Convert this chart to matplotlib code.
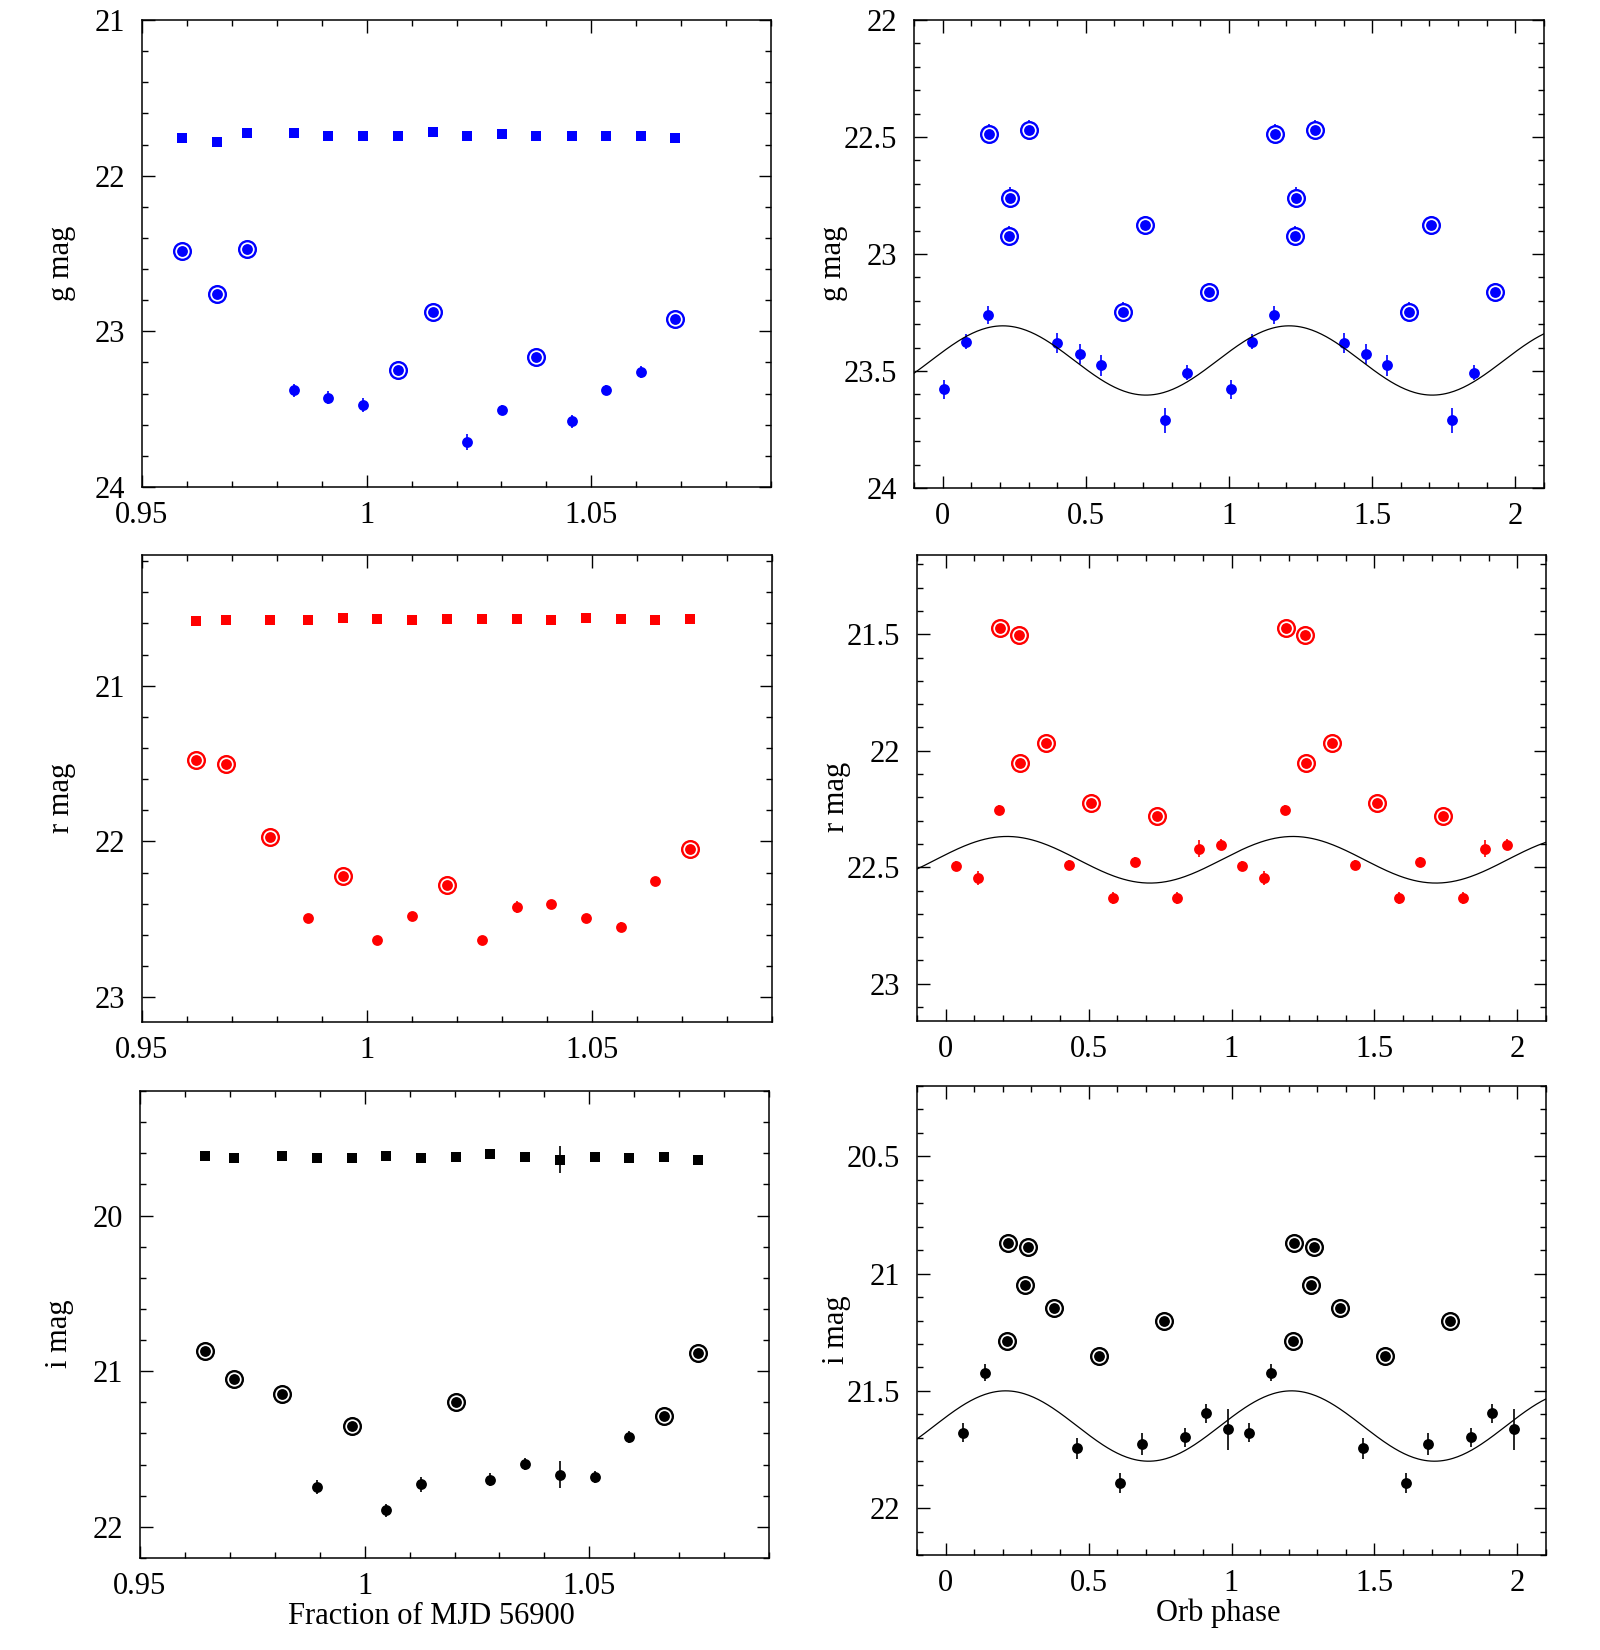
import numpy as np
import matplotlib
matplotlib.use('Agg')
import matplotlib.pyplot as plt
from matplotlib.ticker import MultipleLocator, FuncFormatter

plt.rcParams['font.family'] = ['Liberation Serif', 'DejaVu Serif']
plt.rcParams['font.size'] = 22

# ---- g band ----
g_cmp_t = [0.9589, 0.9666, 0.9733, 0.9839, 0.9915, 0.9993, 1.0070, 1.0147,
           1.0224, 1.0302, 1.0378, 1.0456, 1.0533, 1.0610, 1.0687]
g_cmp = [21.759, 21.781, 21.729, 21.729, 21.742, 21.748, 21.742, 21.722,
         21.742, 21.731, 21.746, 21.742, 21.748, 21.742, 21.759]
g_cmp_err = [0.01] * 15
g_t = g_cmp_t
g_mag = [22.486, 22.759, 22.468, 23.380, 23.426, 23.476, 23.247, 22.878,
         23.711, 23.507, 23.162, 23.579, 23.374, 23.260, 22.921]
g_err = [0.04, 0.045, 0.04, 0.042, 0.043, 0.045, 0.04, 0.04,
         0.053, 0.032, 0.04, 0.04, 0.032, 0.039, 0.04]
g_ring = [1, 1, 1, 0, 0, 0, 1, 1, 0, 0, 1, 0, 0, 0, 1]
g_phase = [0.161, 0.234, 0.301, 0.401, 0.478, 0.552, 0.629, 0.705,
           0.777, 0.855, 0.929, 0.0065, 0.081, 0.158, 0.231]
g_fit = (23.455, 0.148, 0.21)   # mean, semi-amplitude, phase of maximum

# ---- r band ----
r_cmp_t = [0.9621, 0.9686, 0.9785, 0.9870, 0.9947, 1.0023, 1.0101, 1.0178,
           1.0255, 1.0333, 1.0409, 1.0486, 1.0565, 1.0641, 1.0717]
r_cmp = [20.586, 20.580, 20.577, 20.577, 20.562, 20.569, 20.580, 20.569,
         20.571, 20.571, 20.580, 20.564, 20.573, 20.580, 20.573]
r_cmp_err = [0.01] * 15
r_t = r_cmp_t
r_mag = [21.474, 21.505, 21.969, 22.490, 22.225, 22.631, 22.478, 22.279,
         22.631, 22.421, 22.403, 22.493, 22.547, 22.253, 22.051]
r_err = [0.03, 0.03, 0.03, 0.02, 0.03, 0.025, 0.02, 0.03,
         0.025, 0.036, 0.025, 0.02, 0.03, 0.02, 0.03]
r_ring = [1, 1, 1, 0, 1, 0, 0, 1, 0, 0, 0, 0, 0, 0, 1]
r_phase = [0.191, 0.256, 0.352, 0.433, 0.510, 0.585, 0.661, 0.738,
           0.811, 0.888, 0.963, 0.036, 0.112, 0.187, 0.261]
r_fit = (22.468, 0.100, 0.215)

# ---- i band ----
i_cmp_t = [0.9645, 0.9710, 0.9815, 0.9895, 0.9972, 1.0048, 1.0126, 1.0203,
           1.0280, 1.0358, 1.0434, 1.0512, 1.0589, 1.0666, 1.0742]
i_cmp = [19.619, 19.630, 19.616, 19.633, 19.630, 19.616, 19.630, 19.623,
         19.605, 19.623, 19.642, 19.623, 19.630, 19.621, 19.642]
i_cmp_err = [0.01, 0.01, 0.01, 0.01, 0.01, 0.01, 0.01, 0.01,
             0.01, 0.01, 0.087, 0.01, 0.01, 0.01, 0.01]
i_t = i_cmp_t
i_mag = [20.868, 21.049, 21.147, 21.745, 21.351, 21.894, 21.726, 21.200,
         21.698, 21.595, 21.664, 21.678, 21.422, 21.286, 20.885]
i_err = [0.03, 0.03, 0.03, 0.045, 0.03, 0.043, 0.048, 0.03,
         0.041, 0.04, 0.088, 0.039, 0.037, 0.03, 0.03]
i_ring = [1, 1, 1, 0, 1, 0, 0, 1, 0, 0, 0, 0, 0, 1, 1]
i_phase = [0.217, 0.278, 0.380, 0.460, 0.537, 0.610, 0.688, 0.764,
           0.836, 0.912, 0.988, 0.060, 0.137, 0.215, 0.288]
i_fit = (21.65, 0.15, 0.21)

fmt = FuncFormatter(lambda v, p: '%g' % round(v, 6))


def style(ax, xmaj, xmin, ymaj, ymin):
    ax.xaxis.set_major_locator(MultipleLocator(xmaj))
    ax.xaxis.set_minor_locator(MultipleLocator(xmin))
    ax.yaxis.set_major_locator(MultipleLocator(ymaj))
    ax.yaxis.set_minor_locator(MultipleLocator(ymin))
    ax.xaxis.set_major_formatter(fmt)
    ax.yaxis.set_major_formatter(fmt)
    ax.tick_params(which='both', direction='in', top=True, right=True, width=1)
    ax.tick_params(which='major', length=9)
    ax.tick_params(which='minor', length=4.5)
    ax.tick_params(axis='y', pad=12)
    ax.tick_params(axis='x', pad=10)
    for s in ax.spines.values():
        s.set_linewidth(1.1)


def points(ax, x, m, e, ring, color):
    x = np.asarray(x); m = np.asarray(m); e = np.asarray(e)
    ring = np.asarray(ring, dtype=bool)
    ax.errorbar(x, m, yerr=e, fmt='none', ecolor=color, elinewidth=1.2, capsize=0)
    ax.plot(x[ring], m[ring], 'o', ms=12, mfc='white', mec=color, mew=1.7)
    ax.plot(x, m, 'o', ms=7.8, color=color, mew=0)


def time_panel(ax, tc, mc, ec, t, m, e, ring, color, ylim, label):
    ax.errorbar(tc, mc, yerr=ec, fmt='s', ms=7.8, mew=0, color=color,
                ecolor=color, elinewidth=1.2, capsize=0)
    points(ax, t, m, e, ring, color)
    ax.set_xlim(0.95, 1.09)
    ax.set_ylim(ylim[1], ylim[0])
    style(ax, 0.05, 0.01, 1, 0.2)
    ax.set_ylabel(label)
    ax.yaxis.set_label_coords(-0.105, 0.48)


def phase_panel(ax, ph, m, e, ring, color, fit, ylim, label):
    ph = np.asarray(ph)
    points(ax, np.concatenate([ph, ph + 1]), np.concatenate([m, m]),
           np.concatenate([e, e]), np.concatenate([ring, ring]), color)
    # fitted sinusoid (period = 1 in phase)
    xx = np.linspace(-0.1, 2.1, 400)
    mean, amp, p0 = fit
    ax.plot(xx, mean - amp * np.cos(2 * np.pi * (xx - p0)), color='black', lw=0.9)
    ax.set_xlim(-0.1, 2.1)
    ax.set_ylim(ylim[1], ylim[0])
    style(ax, 0.5, 0.1, 0.5, 0.1)
    ax.set_ylabel(label)
    ax.yaxis.set_label_coords(-0.105, 0.48)


fig = plt.figure(figsize=(16, 16.5), dpi=100)
W, H = 1600.0, 1650.0


def add_ax(l, r, t, b):
    return fig.add_axes([l / W, 1 - b / H, (r - l) / W, (b - t) / H])


ax1 = add_ax(142, 771, 20, 487)
ax2 = add_ax(914, 1544, 20, 488)
ax3 = add_ax(142, 772, 555, 1022)
ax4 = add_ax(917, 1546, 555, 1021)
ax5 = add_ax(140, 769, 1091, 1558)
ax6 = add_ax(917, 1546, 1086, 1555)

blue, red, black = '#0000ff', '#ff0000', '#000000'

time_panel(ax1, g_cmp_t, g_cmp, g_cmp_err, g_t, g_mag, g_err, g_ring, blue, (21, 24), 'g mag')
phase_panel(ax2, g_phase, g_mag, g_err, g_ring, blue, g_fit, (22, 24), 'g mag')
time_panel(ax3, r_cmp_t, r_cmp, r_cmp_err, r_t, r_mag, r_err, r_ring, red, (20.16, 23.16), 'r mag')
phase_panel(ax4, r_phase, r_mag, r_err, r_ring, red, r_fit, (21.16, 23.16), 'r mag')
time_panel(ax5, i_cmp_t, i_cmp, i_cmp_err, i_t, i_mag, i_err, i_ring, black, (19.2, 22.2), 'i mag')
phase_panel(ax6, i_phase, i_mag, i_err, i_ring, black, i_fit, (20.2, 22.2), 'i mag')

ax5.set_xlabel('Fraction of MJD 56900')
ax5.xaxis.set_label_coords(0.464, -0.094)
ax6.set_xlabel('Orb phase')
ax6.xaxis.set_label_coords(0.479, -0.092)

fig.savefig('out.png', dpi=100)
